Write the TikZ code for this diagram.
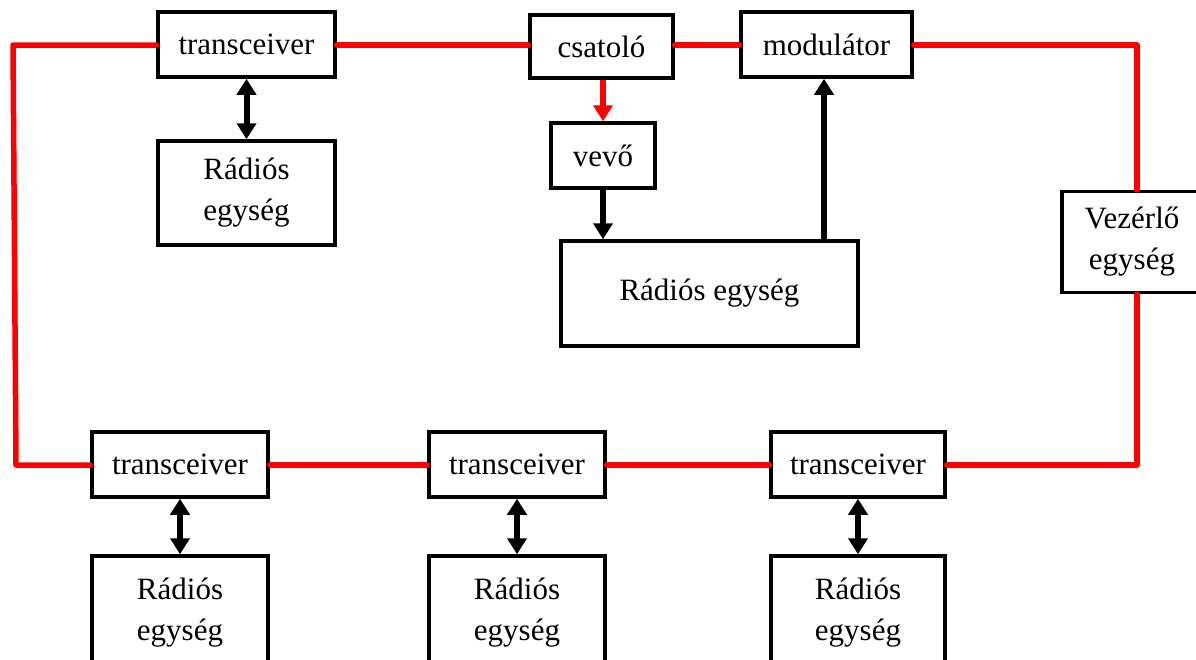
\documentclass[tikz,border=0pt]{standalone}
\usepackage{fontspec}
\setmainfont{Liberation Serif}
\usetikzlibrary{arrows.meta}
\begin{document}
\begin{tikzpicture}[x=1pt,y=-1pt,
  box/.style={draw=black,line width=3.5pt,fill=white,inner sep=0pt,align=center,
    font=\fontsize{31}{41}\selectfont},
  redline/.style={draw=red,line width=5.5pt,line cap=round,line join=round},
  arr/.style={draw=black,line width=6pt,-{Triangle[length=16pt,width=19pt]}},
  darr/.style={draw=black,line width=6pt,{Triangle[length=16pt,width=19pt]}-{Triangle[length=16pt,width=19pt]}},
  rarr/.style={draw=red,line width=6pt,-{Triangle[length=16pt,width=19pt]}}]
\useasboundingbox (0,0) rectangle (1196,659);
\clip (0,0) rectangle (1196,659);
% top row
\node[box,minimum width=177pt,minimum height=65pt] (t0) at (246.5,44.5) {transceiver};
\node[box,minimum width=143pt,minimum height=63pt] (cs) at (601.5,46.5) {csatoló};
\node[box,minimum width=171pt,minimum height=65pt] (mod) at (826.5,44.5) {modulátor};
\node[box,minimum width=177pt,minimum height=104pt] (r0) at (246.5,193) {Rádiós\\egység};
\node[box,minimum width=104pt,minimum height=65pt] (vevo) at (603,155.5) {vevő};
\node[box,minimum width=297pt,minimum height=105pt] (rbig) at (709.5,293.5) {Rádiós egység};
\node[box,minimum width=140pt,minimum height=101pt] (vez) at (1132,242) {Vezérlő\\egység};
% bottom row
\node[box,minimum width=176pt,minimum height=65pt] (t1) at (180,464.5) {transceiver};
\node[box,minimum width=176pt,minimum height=65pt] (t2) at (517,464.5) {transceiver};
\node[box,minimum width=174pt,minimum height=65pt] (t3) at (858,464.5) {transceiver};
\node[box,minimum width=176pt,minimum height=130pt,text depth=24pt] (r1) at (180,621) {Rádiós\\egység};
\node[box,minimum width=176pt,minimum height=130pt,text depth=24pt] (r2) at (517,621) {Rádiós\\egység};
\node[box,minimum width=174pt,minimum height=130pt,text depth=24pt] (r3) at (858,621) {Rádiós\\egység};
% corners
\coordinate (tl) at (13,45);
\coordinate (bl) at (16,465);
\coordinate (tr) at (1137,45);
\coordinate (br) at (1137,465);
% red ring
\draw[redline] (t0.west |- tl) -- (tl) -- (bl) -- (t1.west |- bl);
\draw[redline] (t0.east |- tl) -- (cs.west |- tl);
\draw[redline] (cs.east |- tl) -- (mod.west |- tl);
\draw[redline] (mod.east |- tl) -- (tr) -- (tr |- vez.north);
\draw[redline] (br |- vez.south) -- (br) -- (t3.east |- br);
\draw[redline] (t3.west |- br) -- (t2.east |- br);
\draw[redline] (t2.west |- br) -- (t1.east |- br);
% arrows
\draw[darr] (t0.south) -- (r0.north);
\draw[darr] (t1.south) -- (r1.north);
\draw[darr] (t2.south) -- (r2.north);
\draw[darr] (t3.south) -- (r3.north);
\draw[rarr] (cs.south -| vevo.north) -- (vevo.north);
\draw[arr] (vevo.south) -- (vevo.south |- rbig.north);
\draw[arr] (rbig.north -| 824,0) -- (mod.south -| 824,0);
\end{tikzpicture}
\end{document}
